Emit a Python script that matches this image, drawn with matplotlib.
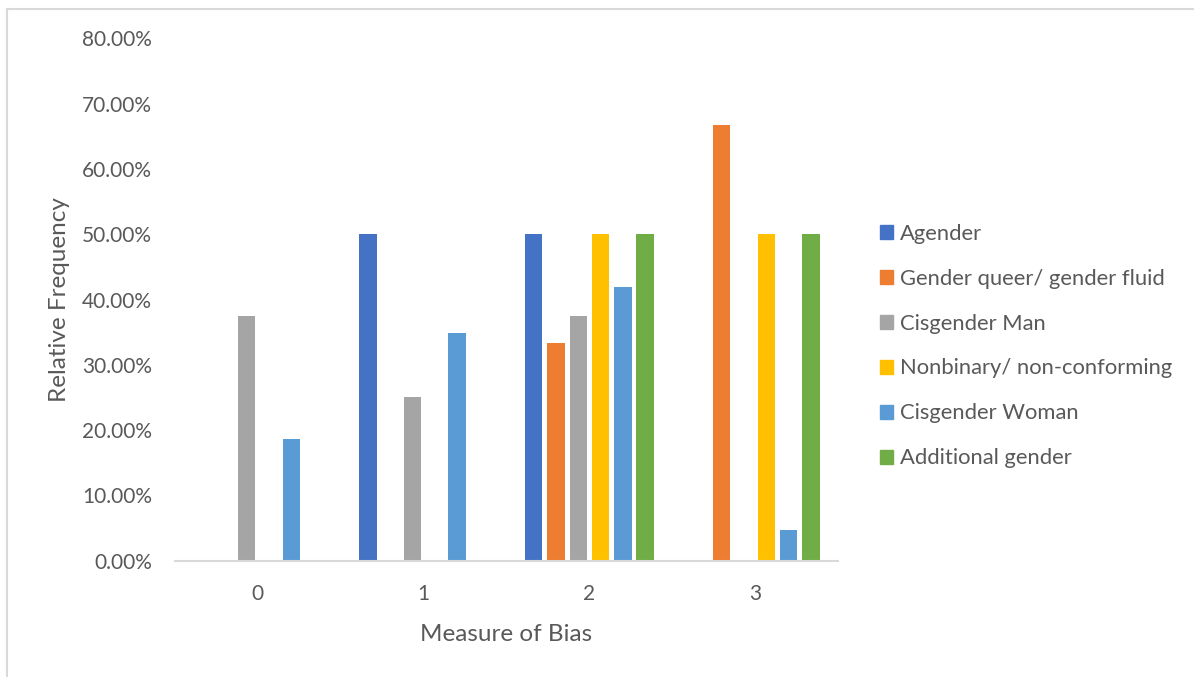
import matplotlib.pyplot as plt
import matplotlib.patches as mpatches
import numpy as np

# data
categories = ["0", "1", "2", "3"]
series_names = [
    "Agender",
    "Gender queer/ gender fluid",
    "Cisgender Man",
    "Nonbinary/ non-conforming",
    "Cisgender Woman",
    "Additional gender",
]
agender = [0.0, 0.50, 0.50, 0.0]
gender_queer = [0.0, 0.0, 0.3333, 0.6667]
cis_man = [0.375, 0.25, 0.375, 0.0]
nonbinary = [0.0, 0.0, 0.50, 0.50]
cis_woman = [0.186, 0.3488, 0.4186, 0.0465]
additional = [0.0, 0.0, 0.50, 0.50]

colors = ["#4472C4", "#ED7D31", "#A5A5A5", "#FFC000", "#5B9BD5", "#70AD47"]
text_color = "#595959"
line_color = "#D9D9D9"

plt.rcParams['font.family'] = ['Lato', 'DejaVu Sans']

fig = plt.figure(figsize=(11.94, 6.77), dpi=100)
ax = fig.add_axes([0.1466, 0.1718, 0.7018 - 0.1466, 0.9433 - 0.1718])

all_series = [agender, gender_queer, cis_man, nonbinary, cis_woman, additional]
x = np.arange(len(categories))
step = 0.1346
width = 0.105
for i, (vals, color, name) in enumerate(zip(all_series, colors, series_names)):
    offset = (i - 2.5) * step
    ax.bar(x + offset, vals, width=width, color=color, label=name)

ax.set_xlim(-0.5, 3.5)
ax.set_ylim(0, 0.8)
ax.set_yticks(np.arange(0, 0.81, 0.1))
ax.set_yticklabels([f"{v * 100:.2f}%" for v in np.arange(0, 0.81, 0.1)])
ax.set_xticks(x)
ax.set_xticklabels(categories)
ax.tick_params(axis='both', length=0, labelsize=15, colors=text_color)
ax.tick_params(axis='y', pad=16.5)
ax.tick_params(axis='x', pad=17)

for side in ["top", "right", "left"]:
    ax.spines[side].set_visible(False)
ax.spines["bottom"].set_color(line_color)
ax.spines["bottom"].set_linewidth(1.5)

ax.set_xlabel("Measure of Bias", fontsize=17.5, color=text_color, labelpad=14)
ax.set_ylabel("Relative Frequency", fontsize=17.5, color=text_color, labelpad=9)

handles = [mpatches.Patch(color=c) for c in colors]
fig.legend(handles, series_names, loc="upper left", bbox_to_anchor=(0.737, 0.6695),
           frameon=False, fontsize=15.8, labelcolor=text_color,
           handlelength=0.61, handleheight=0.61, handletextpad=0.3,
           labelspacing=1.135, borderaxespad=0, borderpad=0)

# outer chart border (partially cropped in the reference)
fig.patches.append(mpatches.Rectangle((7 / 1194, -0.05), 1.2, 1 - 9 / 677 + 0.05,
                                      transform=fig.transFigure, fill=False,
                                      edgecolor=line_color, linewidth=1.5))

fig.savefig("out.png", dpi=100)
